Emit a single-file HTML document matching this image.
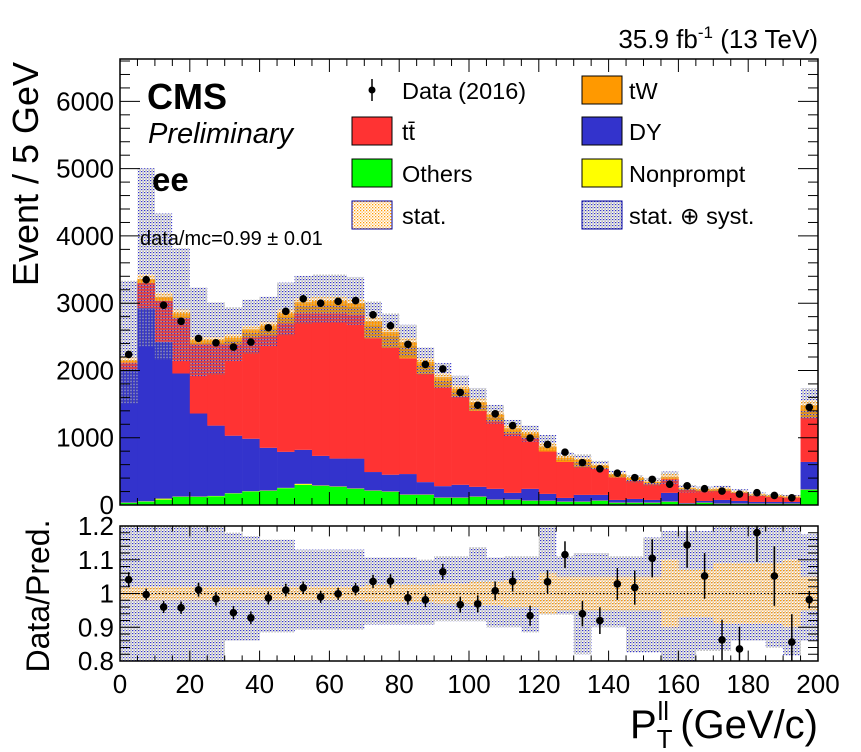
<!DOCTYPE html>
<html><head><meta charset="utf-8"><style>
html,body{margin:0;padding:0;background:#fff}
svg{display:block;font-family:"Liberation Sans",sans-serif}
</style></head><body>
<svg id="chart" width="861" height="752" viewBox="0 0 861 752" xmlns="http://www.w3.org/2000/svg">
<defs>
<pattern id="pSyst" width="3" height="3" patternUnits="userSpaceOnUse"><rect x="0" y="0" width="1.2" height="1.2" fill="#3333cc"/><rect x="1.5" y="1.5" width="1.2" height="1.2" fill="#777"/><rect x="1.5" y="0" width="1" height="1" fill="#bbb"/></pattern>
<pattern id="pStat" width="3" height="3" patternUnits="userSpaceOnUse"><rect x="0" y="0" width="1.3" height="1.3" fill="#ff9900"/><rect x="1.5" y="1.5" width="1.3" height="1.3" fill="#ffb84d"/></pattern>
<clipPath id="clipMain"><rect x="120" y="59" width="698" height="446"/></clipPath>
<clipPath id="clipRatio"><rect x="120" y="526" width="698" height="135"/></clipPath>
</defs>
<g id="main" clip-path="url(#clipMain)"></g>
<g id="ratio" clip-path="url(#clipRatio)"></g>
<g id="axes"></g>
<text x="818" y="48" font-size="26" text-anchor="end">35.9 fb<tspan dy="-10" font-size="17">-1</tspan><tspan dy="10"> (13 TeV)</tspan></text>
<text x="147" y="109" font-size="36" font-weight="bold">CMS</text>
<text x="148" y="143" font-size="29" font-style="italic">Preliminary</text>
<text x="152" y="191" font-size="33" font-weight="bold">ee</text>
<text x="140" y="245" font-size="20">data/mc=0.99 ± 0.01</text>
<g font-size="23.5">
 <g><line x1="372" y1="79" x2="372" y2="101" stroke="#000" stroke-width="1.5"/><circle cx="372" cy="90" r="3.5"/><text x="402" y="99">Data (2016)</text></g>
 <g><rect x="352" y="117" width="40" height="28" fill="#ff3333" stroke="#000"/><text x="402" y="140">tt̄</text></g>
 <g><rect x="352" y="159" width="40" height="28" fill="#00ff00" stroke="#000"/><text x="402" y="182">Others</text></g>
 <g><rect x="352" y="201" width="40" height="28" fill="url(#pStat)" stroke="#000099"/><text x="402" y="224">stat.</text></g>
 <g><rect x="582" y="76" width="40" height="28" fill="#ff9900" stroke="#000"/><text x="629" y="99">tW</text></g>
 <g><rect x="582" y="117" width="40" height="28" fill="#3333cc" stroke="#000"/><text x="629" y="140">DY</text></g>
 <g><rect x="582" y="159" width="40" height="28" fill="#ffff00" stroke="#000"/><text x="629" y="182">Nonprompt</text></g>
 <g><rect x="582" y="201" width="40" height="28" fill="url(#pSyst)" stroke="#000099"/><text x="629" y="224">stat. ⊕ syst.</text></g>
</g>
<text transform="translate(38,174) rotate(-90)" font-size="36" text-anchor="middle">Event / 5 GeV</text>
<text transform="translate(49,596) rotate(-90)" font-size="32" text-anchor="middle">Data/Pred.</text>
<text x="818" y="738" font-size="40" text-anchor="end">P<tspan dy="10" font-size="26">T</tspan><tspan dx="-15" dy="-28" font-size="26">ll</tspan><tspan dy="18"> (GeV/c)</tspan></text>
<rect x="120" y="59" width="698" height="446" fill="none" stroke="#000" stroke-width="1.5"/>
<rect x="120" y="526" width="698" height="135" fill="none" stroke="#000" stroke-width="1.5"/>
</svg>
<script>
const binLow = [0,5,10,15,20,25,30,35,40,45,50,55,60,65,70,75,80,85,90,95,100,105,110,115,120,125,130,135,140,145,150,155,160,165,170,175,180,185,190,195];
const others = [30,50,80,120,120,130,170,200,210,250,300,285,270,240,210,195,150,150,105,105,120,75,75,60,60,45,45,60,30,30,30,45,15,30,15,15,15,15,15,225];
const nonprompt = [5,5,15,5,5,5,5,5,5,5,15,5,5,5,5,5,5,5,5,5,5,5,5,5,5,5,5,5,5,5,5,5,5,5,5,5,5,5,5,5];
const dy = [1980,2870,2330,1830,1235,1045,855,780,635,535,505,440,415,445,275,250,305,185,170,190,145,160,100,175,100,55,100,85,40,55,40,130,10,25,55,40,25,25,25,410];
const ttbar = [105,375,610,820,1030,1210,1360,1505,1670,1910,2030,2120,2160,2140,1990,1890,1720,1610,1470,1310,1130,1005,880,760,630,535,420,385,335,270,235,210,195,150,135,120,90,75,65,660];
const tw = [30,60,60,75,60,60,100,120,150,150,165,180,180,170,250,230,240,180,150,120,130,100,80,65,75,65,100,50,50,40,35,30,25,20,30,15,20,15,15,180];
const dataVals = [2238,3350,2971,2730,2477,2411,2348,2422,2635,2879,3066,3000,3027,3039,2828,2665,2389,2090,2022,1673,1483,1356,1181,995,900,786,630,538,473,407,381,310,286,242,207,163,183,142,107,1453];
const systUp = [0.55,0.49,0.40,0.34,0.32,0.23,0.18,0.17,0.16,0.16,0.13,0.13,0.13,0.13,0.107,0.107,0.107,0.10,0.11,0.11,0.137,0.107,0.11,0.11,0.196,0.11,0.12,0.12,0.11,0.11,0.166,0.185,0.185,0.185,0.2,0.2,0.2,0.2,0.2,0.175];
const systDn = [0.3,0.3,0.3,0.25,0.22,0.21,0.14,0.14,0.115,0.115,0.107,0.107,0.107,0.107,0.092,0.092,0.092,0.092,0.082,0.082,0.082,0.1,0.1,0.115,0.062,0.062,0.18,0.1,0.1,0.175,0.175,0.25,0.25,0.17,0.17,0.14,0.14,0.16,0.184,0.14];
const statRel = [0.02,0.02,0.02,0.02,0.02,0.02,0.02,0.02,0.02,0.02,0.02,0.02,0.02,0.02,0.025,0.025,0.025,0.025,0.03,0.03,0.035,0.035,0.04,0.04,0.06,0.05,0.05,0.05,0.05,0.05,0.05,0.1,0.07,0.07,0.09,0.09,0.09,0.09,0.1,0.05];
const yTicks = [0,1000,2000,3000,4000,5000,6000];
const xTicks = [0,20,40,60,80,100,120,140,160,180,200];
const rTicks = [0.8,0.9,1,1.1,1.2];
const rTickLabels = ["0.8","0.9","1","1.1","1.2"];

const NS = "http://www.w3.org/2000/svg";
const X0=120, X1=818, Y0=505, YT=59, R0=661, RT=526;
const xs = v => X0 + (v-0)/(200-0)*(X1-X0);
const ys = v => Y0 - v/6630*(Y0-YT);
const rs = v => R0 - (v-0.8)/(0.4)*(R0-RT);
const BW = 5;
function mk(parent, tag, attrs){const e=document.createElementNS(NS,tag);for(const k in attrs)e.setAttribute(k,attrs[k]);parent.appendChild(e);return e;}
const gMain=document.getElementById('main'), gRatio=document.getElementById('ratio'), gAx=document.getElementById('axes');

const layers=[[others,'#00ff00','others'],[nonprompt,'#ffff00','nonprompt'],[dy,'#3333cc','dy'],[ttbar,'#ff3333','ttbar'],[tw,'#ff9900','tw']];
const total = binLow.map((b,i)=>layers.reduce((s,l)=>s+l[0][i],0));
binLow.forEach((b,i)=>{
  let cum=0;
  layers.forEach(l=>{
    const v=l[0][i];
    const r=mk(gMain,'rect',{x:xs(b),y:ys(cum+v),width:xs(b+BW)-xs(b)+0.3,height:ys(cum)-ys(cum+v),fill:l[1]});
    
    
    cum+=v;
  });
});
binLow.forEach((b,i)=>{
  const t=total[i];
  const s=mk(gMain,'rect',{x:xs(b),y:ys(t*(1+systUp[i])),width:xs(b+BW)-xs(b),height:ys(t*(1-systDn[i]))-ys(t*(1+systUp[i])),fill:'url(#pSyst)'});
  
  
  const st=mk(gMain,'rect',{x:xs(b),y:ys(t*(1+statRel[i])),width:xs(b+BW)-xs(b),height:ys(t*(1-statRel[i]))-ys(t*(1+statRel[i])),fill:'url(#pStat)'});
  
  
});
binLow.forEach((b,i)=>{
  const d=dataVals[i], e=Math.sqrt(d), cx=xs(b+BW/2);
  const l=mk(gMain,'line',{x1:cx,x2:cx,y1:ys(d+e),y2:ys(d-e),stroke:'#000','stroke-width':1.5});
  
  
  const c=mk(gMain,'circle',{cx:cx,cy:ys(d),r:3.8,fill:'#000'});
  
  
});
binLow.forEach((b,i)=>{
  const s=mk(gRatio,'rect',{x:xs(b),y:rs(1+systUp[i]),width:xs(b+BW)-xs(b)+0.3,height:rs(1-systDn[i])-rs(1+systUp[i]),fill:'url(#pSyst)'});
  
  
});
binLow.forEach((b,i)=>{
  const st=mk(gRatio,'rect',{x:xs(b),y:rs(1+statRel[i]),width:xs(b+BW)-xs(b)+0.3,height:rs(1-statRel[i])-rs(1+statRel[i]),fill:'url(#pStat)'});
  
  
});
const one=mk(gRatio,'line',{x1:X0,x2:X1,y1:rs(1),y2:rs(1),stroke:'#000','stroke-width':1,'stroke-dasharray':'1.5,2'});


binLow.forEach((b,i)=>{
  const r=dataVals[i]/total[i], e=Math.sqrt(dataVals[i])/total[i], cx=xs(b+BW/2);
  const l=mk(gRatio,'line',{x1:cx,x2:cx,y1:rs(r+e),y2:rs(r-e),stroke:'#000','stroke-width':1.5});
  
  
  const c=mk(gRatio,'circle',{cx:cx,cy:rs(r),r:3.8,fill:'#000'});
  
  
});
const tk=(x1,y1,x2,y2)=>mk(gAx,'line',{x1,y1,x2,y2,stroke:'#000','stroke-width':1});
for(let v=0;v<=6600;v+=200){const y=ys(v);const L=(v%1000===0)?20:10;tk(X0,y,X0+L,y);tk(X1,y,X1-L,y);}
for(let v=0;v<=200;v+=5){const x=xs(v);const L=(v%20===0)?13:7;tk(x,Y0,x,Y0-L);tk(x,YT,x,YT+L);tk(x,R0,x,R0-L*0.8);tk(x,RT,x,RT+L*0.8);}
for(let k=0;k<=20;k++){const v=0.8+k*0.02;const y=rs(v);const L=(k%5===0)?20:10;tk(X0,y,X0+L,y);tk(X1,y,X1-L,y);}
yTicks.forEach(v=>{const t=mk(gAx,'text',{x:114,y:ys(v)+9,'font-size':26,'text-anchor':'end'});t.textContent=v;
 
 });
rTicks.forEach((v,i)=>{const t=mk(gAx,'text',{x:114,y:rs(v)+9,'font-size':26,'text-anchor':'end'});t.textContent=rTickLabels[i];
 
 });
xTicks.forEach(v=>{const t=mk(gAx,'text',{x:xs(v),y:693,'font-size':26,'text-anchor':'middle'});t.textContent=v;
 
 });
</script>
</body></html>
